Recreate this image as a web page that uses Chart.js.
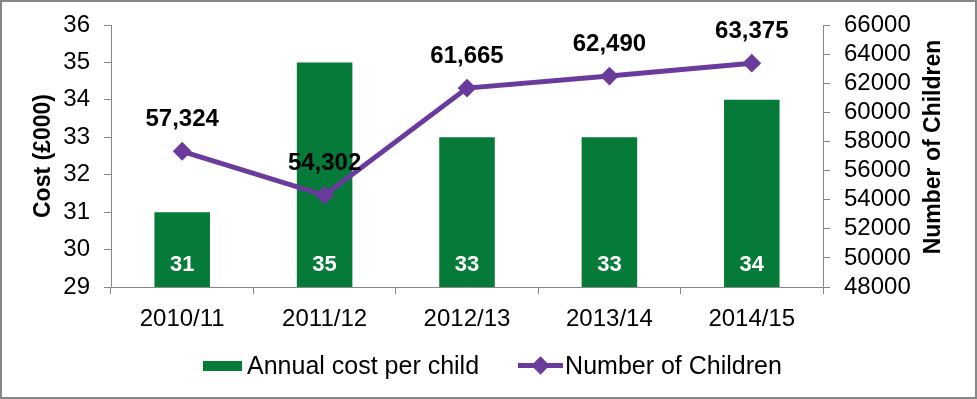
<!DOCTYPE html>
<html>
<head>
<meta charset="utf-8">
<script src="https://cdn.jsdelivr.net/npm/chart.js@4.4.1/dist/chart.umd.min.js"></script>
<style>
  body { margin: 0; background: #fff; }
  #wrap {
    position: relative;
    width: 977px;
    height: 399px;
    box-sizing: border-box;
    border: 2px solid #878787;
    background: #fff;
  }
  #chart-box { position: absolute; left: 0; top: 0; width: 973px; height: 395px; }
  #legend {
    position: absolute;
    left: 201px;
    top: 349px;
    display: flex;
    align-items: center;
    font-family: "Liberation Sans", Arial, sans-serif;
    font-size: 25px;
    color: #000;
    white-space: nowrap;
  }
  .swatch-bar { width: 39px; height: 10px; background: #067A38; margin-right: 5px; }
  .swatch-line { position: relative; width: 45px; height: 5px; background: #6A3B9D; margin-left: 39px; margin-right: 2px; }
  .swatch-line::after {
    content: ''; position: absolute; left: 16px; top: -4px;
    width: 13px; height: 13px; background: #6A3B9D; transform: rotate(45deg);
  }
</style>
</head>
<body>
<div id="wrap">
  <div id="chart-box"><canvas id="chart"></canvas></div>
  <div id="legend">
    <span class="swatch-bar"></span><span>Annual cost per child</span>
    <span class="swatch-line"></span><span>Number of Children</span>
  </div>
</div>
<script>
const years = ['2010/11', '2011/12', '2012/13', '2013/14', '2014/15'];
const costPerChild = [31, 35, 33, 33, 34];
const numChildren = [57324, 54302, 61665, 62490, 63375];

const GREEN = '#067A38';
const PURPLE = '#6A3B9D';
const AXIS = '#878787';
const FONT = '"Liberation Sans", Arial, sans-serif';
const RIGHT_TITLE = 'Number of Children';

// white numbers inside the bars, black numbers above the line points
const valueLabels = {
    id: 'valueLabels',
    afterDatasetsDraw(chart) {
        const ctx = chart.ctx;
        const yBase = chart.scales.y.getPixelForValue(29);
        ctx.save();
        ctx.textAlign = 'center';
        ctx.textBaseline = 'middle';
        ctx.fillStyle = '#fff';
        ctx.font = 'bold 22px ' + FONT;
        chart.getDatasetMeta(0).data.forEach((bar, i) => {
            ctx.fillText(String(costPerChild[i]), bar.x, yBase - 22);
        });
        ctx.fillStyle = '#000';
        ctx.font = 'bold 24px ' + FONT;
        chart.getDatasetMeta(1).data.forEach((pt, i) => {
            ctx.fillText(numChildren[i].toLocaleString('en-GB'), pt.x, pt.y - 32);
        });
        ctx.restore();
    },
    // right axis title reads bottom-to-top like the left one
    afterDraw(chart) {
        const ctx = chart.ctx;
        const s = chart.scales.y1;
        ctx.save();
        ctx.translate(s.right - 41, chart.chartArea.top + 122);
        ctx.rotate(-Math.PI / 2);
        ctx.textAlign = 'center';
        ctx.textBaseline = 'middle';
        ctx.fillStyle = '#000';
        ctx.font = 'bold 23px ' + FONT;
        ctx.fillText(RIGHT_TITLE, 0, 0);
        ctx.restore();
    }
};

Chart.defaults.font.family = FONT;
Chart.defaults.color = '#000';

const config = {
    type: 'bar',
    data: {
        labels: years,
        datasets: [
            {
                label: 'Annual cost per child',
                data: costPerChild,
                backgroundColor: GREEN,
                yAxisID: 'y',
                categoryPercentage: 1,
                barPercentage: 0.39,
                order: 2
            },
            {
                type: 'line',
                label: RIGHT_TITLE,
                data: numChildren,
                borderColor: PURPLE,
                backgroundColor: PURPLE,
                borderWidth: 5,
                pointStyle: 'rectRot',
                pointRadius: 8,
                pointBorderWidth: 2,
                tension: 0,
                yAxisID: 'y1',
                order: 1
            }
        ]
    },
    options: {
        responsive: true,
        maintainAspectRatio: false,
        animation: false,
        layout: { padding: { top: 23, bottom: 58, left: 0, right: 0 } },
        plugins: {
            legend: { display: false },
            tooltip: { enabled: false }
        },
        scales: {
            x: {
                offset: true,
                grid: { offset: true, drawOnChartArea: false, color: AXIS, tickLength: 7 },
                border: { color: AXIS },
                ticks: { font: { size: 24 }, padding: 11, maxRotation: 0 },
                afterFit(scale) { scale.height = 52; }
            },
            y: {
                position: 'left',
                min: 29,
                max: 36,
                ticks: { stepSize: 1, font: { size: 24 }, padding: 14 },
                grid: { drawOnChartArea: false, color: AXIS, tickLength: 7 },
                border: { color: AXIS },
                title: {
                    display: true,
                    text: 'Cost (£000)',
                    font: { size: 23, weight: 'bold' },
                    padding: { top: 28 }
                },
                afterFit(scale) {
                    scale.width = 109;
                    scale.paddingTop = 0;
                    scale.paddingBottom = 0;
                }
            },
            y1: {
                position: 'right',
                min: 48000,
                max: 66000,
                ticks: {
                    stepSize: 2000,
                    autoSkip: false,
                    font: { size: 24 },
                    padding: 14,
                    callback: v => String(v)
                },
                grid: { drawOnChartArea: false, color: AXIS, tickLength: 7 },
                border: { color: AXIS },
                afterFit(scale) {
                    scale.width = 152;
                    scale.paddingTop = 0;
                    scale.paddingBottom = 0;
                }
            }
        }
    },
    plugins: [valueLabels]
};

var chart = new Chart(document.getElementById('chart'), config);
</script>
</body>
</html>
